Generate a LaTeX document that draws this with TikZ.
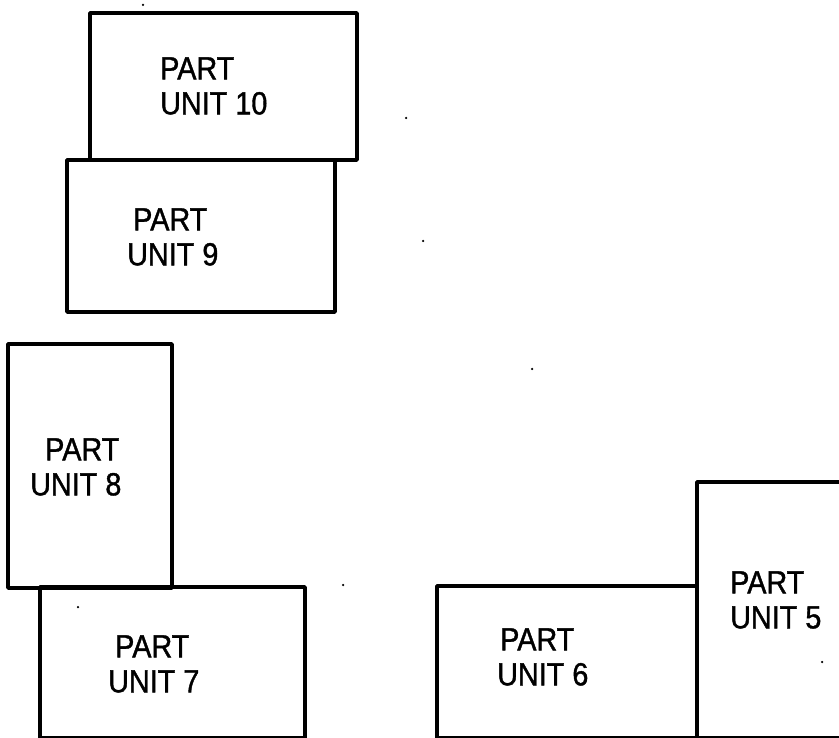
\documentclass[tikz,border=0pt]{standalone}
\usepackage{fontspec}
\setmainfont{Liberation Sans}
\newfontfamily\partfont{Liberation Sans}[FakeStretch=0.9,FakeBold=1.2]
\begin{document}
\begin{tikzpicture}[x=1pt,y=-1pt,
  unitbox/.style={draw=black,line width=3.8pt,rectangle,inner sep=0pt,line join=round},
  unittext/.style={anchor=west,align=left,inner sep=0pt,font=\partfont\fontsize{32}{35}\selectfont},
  speck/.style={fill=black,circle,inner sep=0pt,minimum size=2.5pt}]
\useasboundingbox (0,0) rectangle (839,738);
% boxes
\node[unitbox,minimum width=267pt,minimum height=147pt] (b10) at (223.5,86.5) {};
\node[unitbox,minimum width=268pt,minimum height=152pt] (b9) at (201,236) {};
\node[unitbox,minimum width=164pt,minimum height=244pt] (b8) at (90,466) {};
\node[unitbox,minimum width=265pt,minimum height=151pt] (b7) at (172.5,662.5) {};
\node[unitbox,minimum width=260pt,minimum height=152pt] (b6) at (567,662) {};
\node[unitbox,minimum width=153pt,minimum height=256pt] (b5) at (773.5,610) {};
% labels
\node[unittext] (t10) at (160,86) {PART\\UNIT 10};
\node[unittext] (t9) at (127,237) {\hspace*{6pt}PART\\UNIT 9};
\node[unittext] (t8) at (30,467) {\hspace*{15pt}PART\\UNIT 8};
\node[unittext] (t7) at (108,664) {\hspace*{7pt}PART\\UNIT 7};
\node[unittext] (t6) at (497,657) {\hspace*{3pt}PART\\UNIT 6};
\node[unittext] (t5) at (730,600) {PART\\UNIT 5};
% scan specks
\node[speck] (s1) at (406,118) {};
\node[speck] (s2) at (423,241) {};
\node[speck] (s3) at (532,369) {};
\node[speck] (s4) at (343,585) {};
\node[speck] (s5) at (822,662) {};
\node[speck] (s6) at (143,5) {};
\node[speck] (s7) at (78,607) {};
\end{tikzpicture}
\end{document}
